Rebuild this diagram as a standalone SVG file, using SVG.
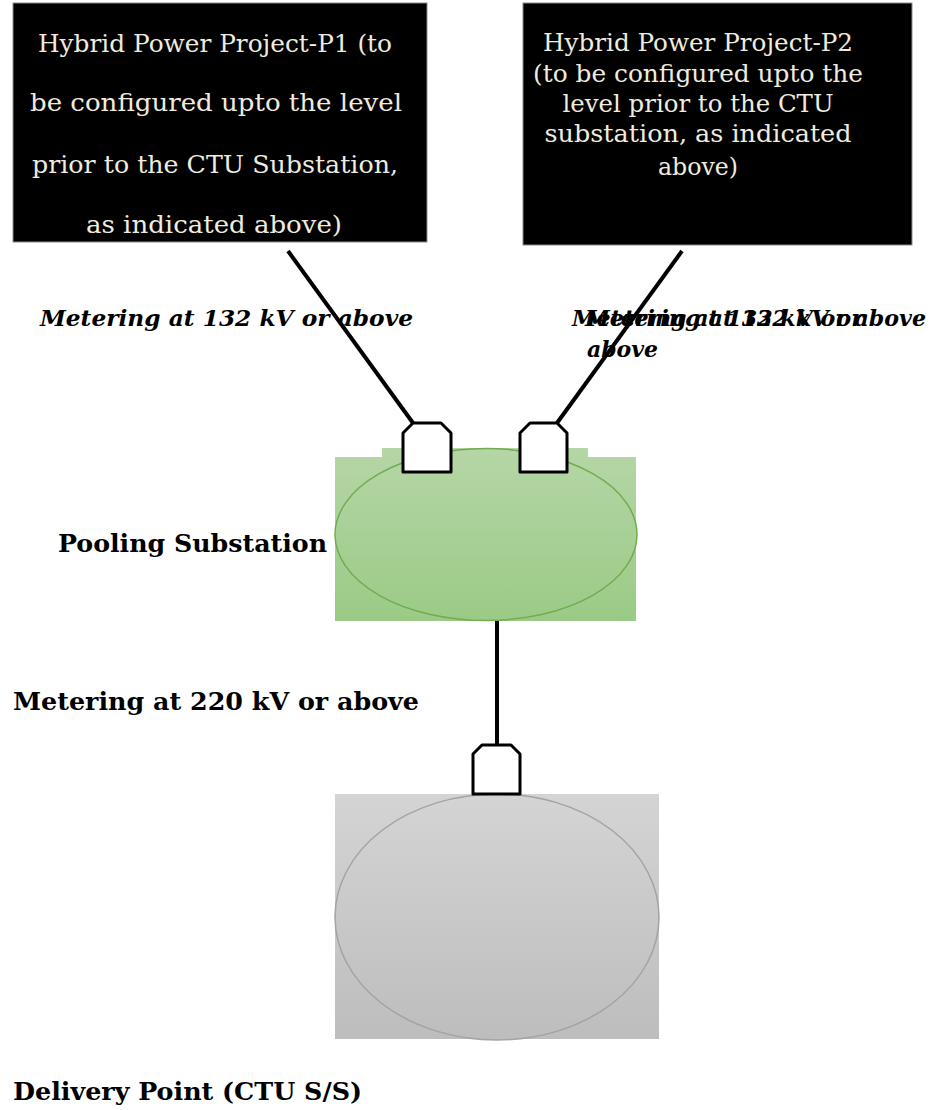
<svg xmlns="http://www.w3.org/2000/svg" width="941" height="1110" viewBox="0 0 941 1110">
<style>
.box{fill:#000;stroke:#8a8a8a;stroke-width:1}
.bt{font-family:"DejaVu Serif","Liberation Serif",serif;font-size:25px;fill:#efebdf;text-anchor:middle}
.bt2{font-size:24px}
.lbl{font-family:"DejaVu Serif","Liberation Serif",serif;font-size:24px;font-weight:bold;fill:#000}
.it{font-style:italic;font-size:22px}
.meter{fill:#fff;stroke:#000;stroke-width:3;stroke-linejoin:round}
.wire{stroke:#000;stroke-width:4;fill:none}
</style>
<defs>
<linearGradient id="gg" x1="0" y1="0" x2="0" y2="1">
<stop offset="0" stop-color="#b5d6a6"/>
<stop offset="1" stop-color="#9bca86"/>
</linearGradient>
<linearGradient id="gr" x1="0" y1="0" x2="0" y2="1">
<stop offset="0" stop-color="#d4d4d4"/>
<stop offset="1" stop-color="#bdbdbd"/>
</linearGradient>
</defs>
<rect width="941" height="1110" fill="#fff"/>

<g id="p1">
<rect class="box" x="13" y="3" width="414" height="239"/>
<text class="bt" x="215" y="52" textLength="354" lengthAdjust="spacingAndGlyphs">Hybrid Power Project-P1 (to</text>
<text class="bt" x="216" y="111" textLength="372" lengthAdjust="spacingAndGlyphs">be configured upto the level</text>
<text class="bt" x="215" y="173" textLength="366" lengthAdjust="spacingAndGlyphs">prior to the CTU Substation,</text>
<text class="bt" x="214" y="233" textLength="256" lengthAdjust="spacingAndGlyphs">as indicated above)</text>
</g>

<g id="p2">
<rect class="box" x="523" y="3" width="389" height="242"/>
<text class="bt bt2" x="698" y="51" textLength="310" lengthAdjust="spacingAndGlyphs">Hybrid Power Project-P2</text>
<text class="bt bt2" x="698" y="82" textLength="330" lengthAdjust="spacingAndGlyphs">(to be configured upto the</text>
<text class="bt bt2" x="698" y="112" textLength="271" lengthAdjust="spacingAndGlyphs">level prior to the CTU</text>
<text class="bt bt2" x="698" y="142" textLength="307" lengthAdjust="spacingAndGlyphs">substation, as indicated</text>
<text class="bt bt2" x="698" y="175" textLength="80" lengthAdjust="spacingAndGlyphs">above)</text>
</g>

<g id="pooling">
<path d="M335,457 H382 V448 H588 V457 H636 V621 H335 Z" fill="url(#gg)"/>
<ellipse cx="486" cy="534.5" rx="151" ry="86" fill="url(#gg)" stroke="#72ac50" stroke-width="1.5"/>
<text class="lbl" x="58" y="552" textLength="269" lengthAdjust="spacingAndGlyphs">Pooling Substation</text>
</g>

<g id="delivery">
<rect x="335" y="794" width="324" height="245" fill="url(#gr)"/>
<ellipse cx="497" cy="917" rx="162" ry="123" fill="url(#gr)" stroke="#a3a3a3" stroke-width="1.5"/>
<text class="lbl" x="13" y="1100" textLength="349" lengthAdjust="spacingAndGlyphs">Delivery Point (CTU S/S)</text>
</g>

<g id="connectors">
<line class="wire" x1="288" y1="251" x2="413" y2="423"/>
<line class="wire" x1="682" y1="251" x2="557" y2="423"/>
<line class="wire" x1="497" y1="621" x2="497" y2="745"/>
</g>

<g id="meter1"><path class="meter" d="M403,472 V433 L413,423 H441 L451,433 V472 Z"/></g>
<g id="meter2"><path class="meter" d="M520,472 V433 L530,423 H557 L567,433 V472 Z"/></g>
<g id="meter3"><path class="meter" d="M473,794 V754 L482,745 H511 L520,754 V794 Z"/></g>

<g id="labels">
<text class="lbl it" x="40" y="326" textLength="373" lengthAdjust="spacingAndGlyphs">Metering at 132 kV or above</text>
<text class="lbl it" x="572" y="326" textLength="354" lengthAdjust="spacingAndGlyphs">Metering at 132 kV or above</text>
<text class="lbl it" x="585" y="326" textLength="278" lengthAdjust="spacingAndGlyphs">Metering at 132 kV or</text>
<text class="lbl it" x="587" y="357" textLength="71" lengthAdjust="spacingAndGlyphs">above</text>
<text class="lbl" x="13" y="710" textLength="406" lengthAdjust="spacingAndGlyphs">Metering at 220 kV or above</text>
</g>
</svg>
